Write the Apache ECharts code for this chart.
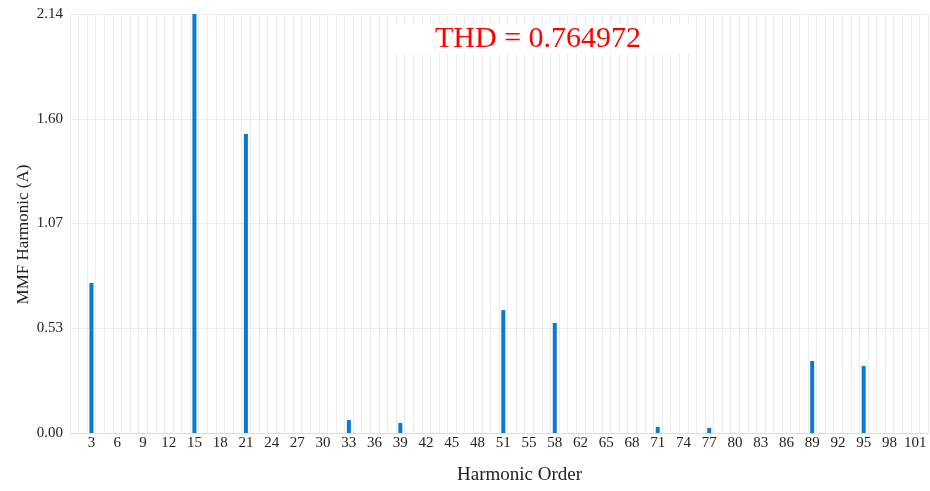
<!DOCTYPE html>
<html>
<head>
<meta charset="utf-8">
<style>
  html, body { margin: 0; padding: 0; background: #fff; }
  #chart { width: 930px; height: 491px; }
</style>
<script src="https://cdn.jsdelivr.net/npm/echarts@6/dist/echarts.min.js"></script>
</head>
<body>
<div id="chart"></div>
<script>
// Harmonic orders shown along the category axis
const harmonicOrders = [
  1, 2, 3, 4, 5, 6, 7, 8, 9, 10, 11, 12, 13, 14, 15, 16, 17, 18, 19, 20,
  21, 22, 23, 24, 25, 26, 27, 28, 29, 30, 31, 32, 33, 34, 35, 36, 37, 38, 39, 40,
  41, 42, 43, 44, 45, 46, 47, 48, 49, 50, 51, 52, 54, 55, 56, 57, 58, 60, 61, 62,
  63, 64, 65, 66, 67, 68, 69, 70, 71, 72, 73, 74, 75, 76, 77, 78, 79, 80, 81, 82,
  83, 84, 85, 86, 87, 88, 89, 90, 91, 92, 93, 94, 95, 96, 97, 98, 99, 100, 101, 102
];

// Non-zero MMF harmonic amplitudes (A)
const peakOrders = [3, 15, 21, 33, 39, 51, 58, 71, 77, 89, 95];
const peakValues = [0.766, 2.14, 1.527, 0.066, 0.051, 0.628, 0.562, 0.031, 0.026, 0.368, 0.342];

// Value-axis tick labels
const yTickLabels = ['0.00', '0.53', '1.07', '1.60', '2.14'];

const thdText = 'THD = 0.764972';

const amplitudes = harmonicOrders.map(function (h) {
  const k = peakOrders.indexOf(h);
  return k >= 0 ? peakValues[k] : 0;
});

const FONT = 'Liberation Serif';
const chart = echarts.init(document.getElementById('chart'));

chart.setOption({
  animation: false,
  backgroundColor: '#ffffff',
  grid: { left: 70, right: 2, top: 14, bottom: 58 },
  xAxis: {
    type: 'category',
    data: harmonicOrders.map(String),
    boundaryGap: true,
    name: 'Harmonic Order',
    nameLocation: 'middle',
    nameGap: 33,
    nameTextStyle: { fontFamily: FONT, fontSize: 19, color: '#222', padding: [0, 0, 0, 41] },
    axisLine: { show: true, lineStyle: { color: '#dcdcdc', width: 1 } },
    axisTick: { show: false },
    axisLabel: {
      interval: function (idx) { return idx % 3 === 2; },
      fontFamily: FONT, fontSize: 15, color: '#222', margin: 3
    },
    splitLine: { show: true, interval: 0, lineStyle: { color: '#ececec', width: 1 } }
  },
  yAxis: {
    type: 'value',
    min: 0,
    max: 2.14,
    interval: 0.535,
    name: 'MMF Harmonic (A)',
    nameLocation: 'middle',
    nameGap: 38,
    nameMoveOverlap: false,
    nameRotate: 90,
    nameTextStyle: { fontFamily: FONT, fontSize: 17, color: '#222', padding: [0, 22, 0, 0] },
    axisLine: { show: false },
    axisTick: { show: false },
    axisLabel: {
      fontFamily: FONT, fontSize: 15, color: '#222', margin: 7,
      formatter: function (v, i) { return yTickLabels[i]; }
    },
    splitLine: { show: true, lineStyle: { color: '#ececec', width: 1 } }
  },
  series: [{
    type: 'bar',
    data: amplitudes,
    barWidth: 4,
    itemStyle: { color: '#0a78d7' }
  }],
  title: {
    text: thdText,
    left: 388,
    top: 24,
    padding: [0, 48, 0, 47],
    backgroundColor: '#ffffff',
    textStyle: { fontFamily: FONT, fontSize: 30, fontWeight: 'normal', color: '#ff0000' }
  }
});
</script>
</body>
</html>
